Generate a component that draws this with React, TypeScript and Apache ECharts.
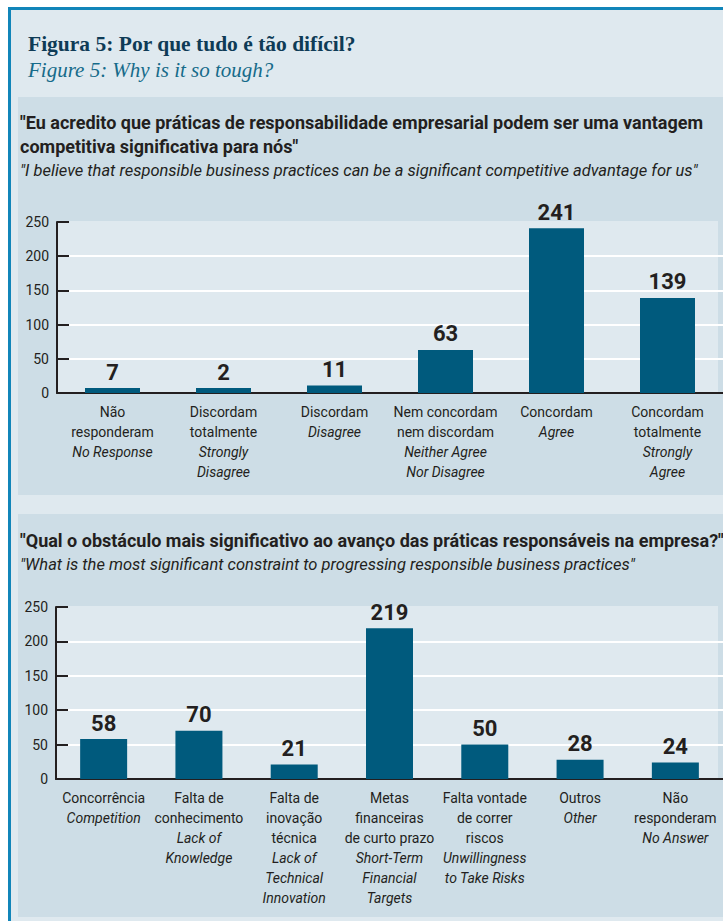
import React, { useEffect, useRef } from "react";
import * as echarts from "echarts";

const titlePt = "Figura 5: Por que tudo é tão difícil?";
const titleEn = "Figure 5: Why is it so tough?";

const q1Pt = [
  "\"Eu acredito que práticas de responsabilidade empresarial podem ser uma vantagem",
  "competitiva significativa para nós\"",
];
const q1En = "\"I believe that responsible business practices can be a significant competitive advantage for us\"";

const q2Pt = "\"Qual o obstáculo mais significativo ao avanço das práticas responsáveis na empresa?\"";
const q2En = "\"What is the most significant constraint to progressing responsible business practices\"";

const topCategoriesPt = [
  "Não\nresponderam",
  "Discordam\ntotalmente",
  "Discordam",
  "Nem concordam\nnem discordam",
  "Concordam",
  "Concordam\ntotalmente",
];
const topCategoriesEn = [
  "No Response",
  "Strongly\nDisagree",
  "Disagree",
  "Neither Agree\nNor Disagree",
  "Agree",
  "Strongly\nAgree",
];
const topValues = [7, 2, 11, 63, 241, 139];

const bottomCategoriesPt = [
  "Concorrência",
  "Falta de\nconhecimento",
  "Falta de\ninovação\ntécnica",
  "Metas\nfinanceiras\nde curto prazo",
  "Falta vontade\nde correr\nriscos",
  "Outros",
  "Não\nresponderam",
];
const bottomCategoriesEn = [
  "Competition",
  "Lack of\nKnowledge",
  "Lack of\nTechnical\nInnovation",
  "Short-Term\nFinancial\nTargets",
  "Unwillingness\nto Take Risks",
  "Other",
  "No Answer",
];
const bottomValues = [58, 70, 21, 219, 50, 28, 24];

const yTicks = [0, 50, 100, 150, 200, 250];

const SANS = "Roboto, 'Noto Sans', sans-serif";
const SERIF = "'Liberation Serif', 'DejaVu Serif', serif";
const INK = "#231f20";
const BAR = "#005a7d";
const LIGHT = "#dfe9ef";
const PANEL = "#cddde6";
const FRAME = "#1185b9";

function buildLabels(pt: string[], en: string[]) {
  return pt.map(
    (p, i) =>
      p +
      "\n" +
      en[i]
        .split("\n")
        .map((l) => "{i|" + l + "}")
        .join("\n")
  );
}

function yAxisOpt(gridIndex: number) {
  return {
    type: "value",
    gridIndex,
    min: yTicks[0],
    max: yTicks[yTicks.length - 1],
    interval: yTicks[1] - yTicks[0],
    axisLine: { show: true, lineStyle: { color: INK, width: 2 } },
    axisTick: { show: true, inside: true, length: 12, lineStyle: { color: INK, width: 2 } },
    axisLabel: { color: INK, fontFamily: SANS, fontSize: 14, margin: 8 },
    splitLine: {
      show: true,
      showMinLine: false,
      showMaxLine: false,
      lineStyle: { color: "#ffffff", width: 2 },
    },
  };
}

function xAxisOpt(gridIndex: number, data: string[]) {
  return {
    type: "category",
    gridIndex,
    data,
    axisLine: { show: true, lineStyle: { color: INK, width: 2 } },
    axisTick: { show: false },
    axisLabel: {
      interval: 0,
      color: INK,
      fontFamily: SANS,
      fontSize: 14,
      lineHeight: 20,
      margin: 9,
      align: "center",
      rich: {
        i: { fontStyle: "italic", color: INK, fontFamily: SANS, fontSize: 14, lineHeight: 20 },
      },
    },
  };
}

function barSeries(idx: number, values: number[], barWidth: number) {
  return {
    type: "bar",
    xAxisIndex: idx,
    yAxisIndex: idx,
    data: values,
    barWidth,
    barMinHeight: 5,
    itemStyle: { color: BAR },
    label: {
      show: true,
      position: "top",
      distance: 5,
      color: INK,
      fontFamily: SANS,
      fontWeight: "bold",
      fontSize: 22,
    },
  };
}

export default function App() {
  const ref = useRef<HTMLDivElement>(null);

  useEffect(() => {
    if (!ref.current) return;
    const chart = echarts.init(ref.current, null, { renderer: "svg" });

    const textStyle = (size: number, extra: any = {}) => ({
      fontFamily: SANS,
      fontSize: size,
      fill: INK,
      ...extra,
    });

    chart.setOption({
      animation: false,
      backgroundColor: "#ffffff",
      graphic: [
        { type: "rect", z: -10, shape: { x: 8, y: 7, width: 760, height: 960 }, style: { fill: LIGHT } },
        { type: "rect", z: -9, shape: { x: 8, y: 7, width: 3, height: 960 }, style: { fill: FRAME } },
        { type: "rect", z: -9, shape: { x: 8, y: 7, width: 760, height: 3 }, style: { fill: FRAME } },
        { type: "rect", z: -9, shape: { x: 18, y: 97, width: 720, height: 398 }, style: { fill: PANEL } },
        { type: "rect", z: -9, shape: { x: 18, y: 514, width: 720, height: 403 }, style: { fill: PANEL } },
        { type: "rect", z: -8, shape: { x: 57, y: 221, width: 661, height: 172 }, style: { fill: LIGHT } },
        { type: "rect", z: -8, shape: { x: 56, y: 606, width: 662, height: 173 }, style: { fill: LIGHT } },
        {
          type: "text",
          z: 10,
          x: 28,
          y: 44,
          style: {
            text: titlePt,
            fontFamily: SERIF,
            fontWeight: "bold",
            fontSize: 21.5,
            fill: "#0e3b56",
            verticalAlign: "middle",
          },
        },
        {
          type: "text",
          z: 10,
          x: 28,
          y: 70,
          style: {
            text: titleEn,
            fontFamily: SERIF,
            fontStyle: "italic",
            fontSize: 21,
            fill: "#166b8a",
            verticalAlign: "middle",
          },
        },
        {
          type: "text",
          z: 10,
          x: 20,
          y: 122,
          style: { ...textStyle(18, { fontWeight: "bold" }), text: q1Pt[0], verticalAlign: "middle" },
        },
        {
          type: "text",
          z: 10,
          x: 20,
          y: 146,
          style: { ...textStyle(18, { fontWeight: "bold" }), text: q1Pt[1], verticalAlign: "middle" },
        },
        {
          type: "text",
          z: 10,
          x: 20,
          y: 170,
          style: { ...textStyle(16.5, { fontStyle: "italic" }), text: q1En, verticalAlign: "middle" },
        },
        {
          type: "text",
          z: 10,
          x: 20,
          y: 540,
          style: { ...textStyle(18, { fontWeight: "bold" }), text: q2Pt, verticalAlign: "middle" },
        },
        {
          type: "text",
          z: 10,
          x: 20,
          y: 564,
          style: { ...textStyle(16.5, { fontStyle: "italic" }), text: q2En, verticalAlign: "middle" },
        },
      ],
      grid: [
        { left: 57, top: 222, width: 666, height: 171, containLabel: false },
        { left: 56, top: 607, width: 675, height: 172, containLabel: false },
      ],
      xAxis: [
        xAxisOpt(0, buildLabels(topCategoriesPt, topCategoriesEn)),
        xAxisOpt(1, buildLabels(bottomCategoriesPt, bottomCategoriesEn)),
      ],
      yAxis: [yAxisOpt(0), yAxisOpt(1)],
      series: [barSeries(0, topValues, 55), barSeries(1, bottomValues, 47)],
    });

    return () => chart.dispose();
  }, []);

  return (
    <div
      ref={ref}
      style={{ position: "absolute", left: 0, top: 0, width: 723, height: 921 }}
    />
  );
}
